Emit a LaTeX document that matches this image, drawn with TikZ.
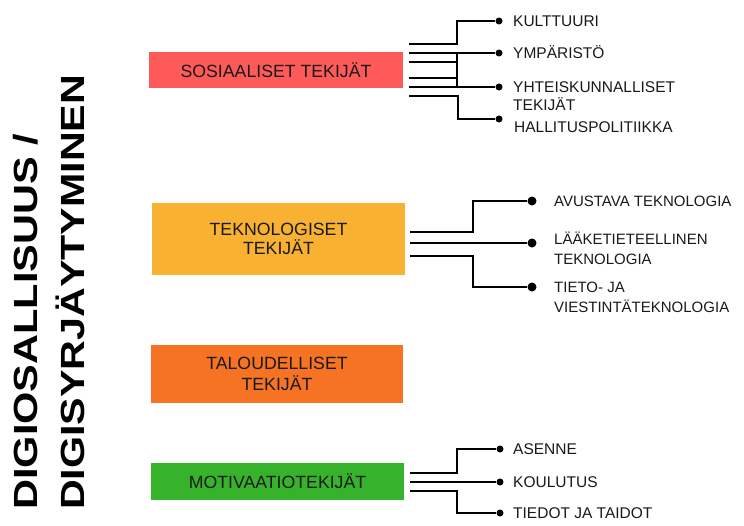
\documentclass[tikz,border=0pt]{standalone}
\usepackage{fontspec}
\setmainfont{Liberation Sans}
\usetikzlibrary{positioning, calc}

\definecolor{rosso}{HTML}{FF5A5A}
\definecolor{giallo}{HTML}{F9B131}
\definecolor{arancio}{HTML}{F57322}
\definecolor{verde}{HTML}{37B32B}

\tikzset{
  box/.style={rectangle, inner sep=0pt, align=center, text=black!90,
    font=\fontsize{17.7}{21.5}\selectfont},
  dot/.style={circle, fill=black, inner sep=0pt, minimum size=7pt},
  voce/.style={anchor=base west, inner sep=0pt, align=left, text=black!90,
    font=\fontsize{15.5}{17.7}\selectfont},
  ramo/.style={line width=1.9pt},
  titolo/.style={rotate=90, anchor=base west, inner sep=0pt,
    font=\fontsize{33.5}{40}\selectfont\bfseries},
}

\begin{document}
\begin{tikzpicture}[x=1pt, y=-1pt]
  \useasboundingbox (0,0) rectangle (744,525);

  % Titolo verticale
  \node[titolo] (T1) at (37,510) {\scalebox{1.24}[1]{DIGIOSALLISUUS /}};
  \node[titolo] (T2) at (84,510) {\scalebox{1.23}[1]{DIGISYRJÄYTYMINEN}};

  % Riquadri
  \node[box, fill=rosso, minimum width=254pt, minimum height=36pt] (S) at (276,70) {SOSIAALISET TEKIJÄT};
  \node[box, fill=giallo, minimum width=253pt, minimum height=72pt] (K) at (278.5,239) {\raisebox{-2pt}{TEKNOLOGISET}\\TEKIJÄT};
  \node[box, fill=arancio, minimum width=252pt, minimum height=58pt] (L) at (277,374) {TALOUDELLISET\\TEKIJÄT};
  \node[box, fill=verde, minimum width=253pt, minimum height=37pt] (M) at (277.5,481.5) {MOTIVAATIOTEKIJÄT};

  % Gruppo sociale
  \coordinate (s1) at (409,44);
  \coordinate (s2) at (409,53);
  \coordinate (s3) at (409,62);
  \coordinate (s4) at (409,78);
  \coordinate (s5) at (409,87);
  \coordinate (s6) at (409,96);
  \node[dot] (d1) at (499,21) {};
  \node[dot] (d2) at (499,53) {};
  \node[dot] (d3) at (499,87) {};
  \node[dot] (d4) at (499,119) {};
  \node[voce] (v1) at (513,26.5) {KULTTUURI};
  \node[voce] (v2) at (513,58.5) {YMPÄRISTÖ};
  \node[voce] (v3) at (513,110.2) {YHTEISKUNNALLISET\\TEKIJÄT};
  \node[voce] (v4) at (514,132.5) {HALLITUSPOLITIIKKA};
  \draw[ramo] (s1) -- ++(48,0) |- (d1);
  \draw[ramo] (s2) -- (d2);
  \draw[ramo] (s3) -- ++(48,0);
  \draw[ramo] (s4) -- ++(48,0);
  \draw[ramo] (s5) -- (d3);
  \draw[ramo] ($(s2)+(48,0)$) -- ($(s5)+(48,0)$);
  \draw[ramo] (s6) -- ++(49,0) |- (d4);

  % Gruppo tecnologico
  \coordinate (t1) at (410,232);
  \coordinate (t2) at (410,243);
  \coordinate (t3) at (410,256);
  \node[dot, minimum size=9pt] (e1) at (532,201) {};
  \node[dot, minimum size=9pt] (e2) at (532,243) {};
  \node[dot, minimum size=9pt] (e3) at (532,287) {};
  \begin{scope}[voce/.append style={font=\fontsize{15}{19.5}\selectfont}]
    \node[voce] (w1) at (554,206.4) {AVUSTAVA TEKNOLOGIA};
    \node[voce] (w2) at (554,264.4) {LÄÄKETIETEELLINEN\\TEKNOLOGIA};
    \node[voce] (w3) at (554,312.4) {TIETO- JA\\VIESTINTÄTEKNOLOGIA};
  \end{scope}
  \draw[ramo] (t1) -- ++(63,0) |- (e1);
  \draw[ramo] (t2) -- (e2);
  \draw[ramo] (t3) -- ++(63,0) |- (e3);

  % Gruppo motivazione
  \coordinate (m1) at (410,473);
  \coordinate (m2) at (410,482);
  \coordinate (m3) at (410,491);
  \node[dot] (f1) at (500,449) {};
  \node[dot] (f2) at (500,482) {};
  \node[dot] (f3) at (500,513) {};
  \node[voce] (x1) at (513,454.5) {ASENNE};
  \node[voce] (x2) at (513,487.5) {KOULUTUS};
  \node[voce] (x3) at (513,518.5) {TIEDOT JA TAIDOT};
  \draw[ramo] (m1) -- ++(47,0) |- (f1);
  \draw[ramo] (m2) -- (f2);
  \draw[ramo] (m3) -- ++(47,0) |- (f3);
\end{tikzpicture}
\end{document}
